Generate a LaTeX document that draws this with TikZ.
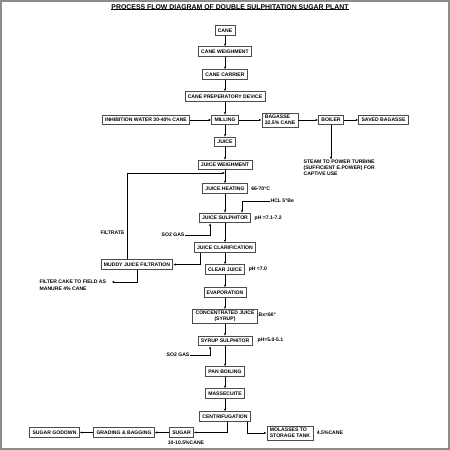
\documentclass[tikz,border=0pt]{standalone}
\usepackage{fontspec}
\setmainfont{Liberation Sans}
\usetikzlibrary{arrows.meta}
\newcommand{\bodyfs}{\fontsize{5.1}{6}\selectfont\bfseries}
\newcommand{\titlefs}{\fontsize{6.9}{8}\selectfont\bfseries}
\begin{document}
\begin{tikzpicture}[x=1pt,y=-1pt,
  box/.style={draw=black!70, line width=0.75pt, fill=white, font=\bodyfs,
    inner xsep=2.8pt, inner ysep=0pt, minimum height=9.5pt, align=center},
  lbl/.style={font=\bodyfs, inner sep=0.4pt},
  arr/.style={-{Latex[length=2.6pt,width=2.2pt]}, line width=0.5pt},
  ln/.style={line width=0.5pt}]
\useasboundingbox (0,0) rectangle (450,450);
\draw[black!45, line width=1.6pt] (0.8,0.8) rectangle (449.2,449.2);

% title
\node[font=\titlefs, inner sep=0pt] (title) at (230,7.5) {PROCESS FLOW DIAGRAM OF DOUBLE SULPHITATION SUGAR PLANT};
\draw[line width=0.5pt] ([yshift=1.2pt]title.south west) -- ([yshift=1.2pt]title.south east);

% main column
\node[box] (cane) at (225,30.5) {CANE};
\node[box] (cw) at (225,51.5) {CANE WEIGHMENT};
\node[box] (cc) at (225,74.5) {CANE CARRIER};
\node[box] (cpd) at (225,96.5) {CANE PREPERATORY DEVICE};
\node[box] (mill) at (225,120) {MILLING};
\node[box] (iw) at (146,120) {INHIBITION WATER 30-40\% CANE};
\node[box, minimum height=14pt, align=left] (bag) at (280,120) {BAGASSE\\32.5\% CANE};
\node[box] (boil) at (331,120) {BOILER};
\node[box] (sb) at (383.5,120) {SAVED BAGASSE};
\node[lbl, anchor=north west, align=left] (steam) at (303,159.5) {STEAM TO POWER TURBINE\\(SUFFICIENT E.POWER) FOR\\CAPTIVE USE};

\node[box] (juice) at (225,142) {JUICE};
\node[box] (jw) at (225,165) {JUICE WEIGHMENT};
\node[box] (jh) at (225,188.5) {JUICE HEATING};
\node[lbl, anchor=west] (temp) at ([xshift=3pt]jh.east) {66-70°C};
\node[box] (js) at (225,218) {JUICE SULPHITOR};
\node[lbl, anchor=west] (ph1) at ([xshift=3pt]js.east) {pH =7.1-7.2};
\node[lbl, anchor=west] (hcl) at (270,201) {HCL 5°Be};
\node[lbl, anchor=east] (so1) at (185,235) {SO2 GAS};
\node[box] (jc) at (225,247.5) {JUICE CLARIFICATION};
\node[box] (mjf) at (137,264.5) {MUDDY JUICE FILTRATION};
\node[lbl, anchor=east] (filt) at (125,233) {FILTRATE};
\node[box] (cj) at (225,269.5) {CLEAR JUICE};
\node[lbl, anchor=west] (ph2) at ([xshift=3pt]cj.east) {pH =7.0};
\node[lbl, anchor=west] (fc1) at (39,282) {FILTER CAKE TO FIELD AS};
\node[lbl, anchor=west] (fc2) at (39,288.5) {MANURE 4\% CANE};

\node[box] (evap) at (225,292.5) {EVAPORATION};
\node[box, minimum height=14pt] (conc) at (225,316.5) {CONCENTRATED JUICE\\(SYRUP)};
\node[lbl, anchor=west] (bx) at (258,315) {Bx=60°};
\node[box] (ss) at (225,341) {SYRUP SULPHITOR};
\node[lbl, anchor=west] (ph3) at (257,340) {pH=5.0-5.1};
\node[lbl, anchor=east] (so2) at (190,355) {SO2 GAS};
\node[box] (pan) at (225,371.5) {PAN BOILING};
\node[box] (mass) at (225,393.5) {MASSECUITE};
\node[box] (cent) at (225,416.5) {CENTRIFUGATION};
\node[box] (sugar) at (181.5,432.5) {SUGAR};
\node[lbl] (sp) at (186,442.5) {10-10.5\%CANE};
\node[box] (gb) at (124,432.5) {GRADING \& BAGGING};
\node[box] (sg) at (54.5,432.5) {SUGAR GODOWN};
\node[box, minimum height=14pt, align=left] (mol) at (290,433) {MOLASSES TO\\STORAGE TANK};
\node[lbl, anchor=west] (mp) at ([xshift=3pt]mol.east) {4.5\%CANE};

\coordinate (fb) at (225,173);

% connectors
\foreach \a/\b in {cane/cw, cw/cc, cc/cpd, cpd/mill, mill/juice, juice/jw, jw/jh, jh/js, js/jc, jc/cj, cj/evap, evap/conc, conc/ss, ss/pan, pan/mass, mass/cent}
  \draw[arr] (\a.south) -- (\a.south |- \b.north);
\draw[arr] (iw) -- (mill);
\draw[arr] (mill) -- (bag);
\draw[arr] (bag) -- (boil);
\draw[arr] (boil) -- (sb);
\draw[arr] (boil.south) -- (boil.south |- steam.north);
\draw[arr] (hcl.west) -| ([xshift=17pt]js.north);
\draw[arr] (so1.east) -| ([xshift=-15pt]js.south);
\draw[arr] ([xshift=-25pt]jc.south) |- (mjf.east);
\draw[arr] ([xshift=-10pt]mjf.north) |- (fb);
\draw[arr] (mjf.south) |- ([xshift=5pt]fc1.east);
\draw[arr] (so2.east) -| ([xshift=-15pt]ss.south);
\draw[arr] ([xshift=2pt]cent.south) |- (sugar.east);
\draw[arr] ([xshift=22pt]cent.south) |- (mol.west);
\draw[arr] (sugar) -- (gb);
\draw[arr] (gb) -- (sg);
\end{tikzpicture}
\end{document}
